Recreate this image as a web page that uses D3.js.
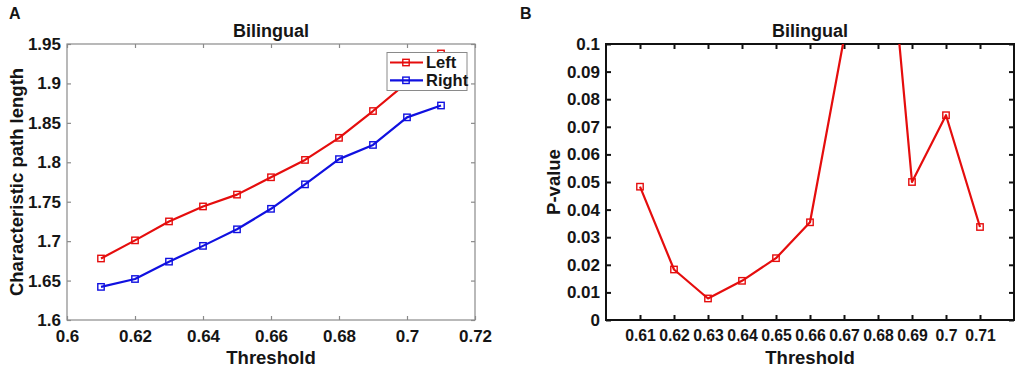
<!DOCTYPE html>
<html><head><meta charset="utf-8">
<script src="https://cdn.jsdelivr.net/npm/d3@7"></script>
<style>
body{margin:0;background:#fff;}
svg text{font-family:"Liberation Sans",Arial,sans-serif;font-weight:bold;fill:#151515;}
</style></head>
<body><svg id="c" width="1021" height="369"></svg>
<script>
const thresholds = [0.61,0.62,0.63,0.64,0.65,0.66,0.67,0.68,0.69,0.70,0.71];
const leftCPL  = [1.678,1.701,1.725,1.744,1.759,1.781,1.803,1.831,1.865,1.901,1.938];
const rightCPL = [1.642,1.652,1.674,1.694,1.715,1.741,1.772,1.804,1.822,1.857,1.872];
const pValues  = [0.0483,0.0183,0.0078,0.0142,0.0224,0.0354,0.102,0.185,0.0500,0.0742,0.0337];
const aXTicks = [0.6,0.62,0.64,0.66,0.68,0.7,0.72];
const aYTicks = [1.6,1.65,1.7,1.75,1.8,1.85,1.9,1.95];
const bXTicks = [0.61,0.62,0.63,0.64,0.65,0.66,0.67,0.68,0.69,0.70,0.71];
const bYTicks = [0,0.01,0.02,0.03,0.04,0.05,0.06,0.07,0.08,0.09,0.1];
const seriesNames = ["Left","Right"];

const RED = "#e50d0d", BLUE = "#1010e0";
const svg = d3.select("#c");
const fmt = d => String(+d.toFixed(3));

function panel(opt){
  const {x0,x1,y0,y1,xd,yd,xt,yt,frame,fw,tickLen,letter,letterX,ylabel,ylabX,xFont} = opt;
  const g = svg.append("g");
  const x = d3.scaleLinear().domain(xd).range([x0,x1]);
  const y = d3.scaleLinear().domain(yd).range([y1,y0]);
  const clipId = "clip"+letter;
  g.append("clipPath").attr("id",clipId).append("rect")
    .attr("x",x0).attr("y",y0).attr("width",x1-x0).attr("height",y1-y0);
  const axB = d3.axisBottom(x).tickValues(xt).tickSize(-tickLen).tickPadding(10).tickFormat(fmt);
  const axT = d3.axisTop(x).tickValues(xt).tickSize(-tickLen).tickFormat("");
  const axL = d3.axisLeft(y).tickValues(yt).tickSize(-tickLen).tickPadding(6).tickFormat(fmt);
  const axR = d3.axisRight(y).tickValues(yt).tickSize(-tickLen).tickFormat("");
  const gb = g.append("g").attr("transform",`translate(0,${y1})`).call(axB);
  const gt = g.append("g").attr("transform",`translate(0,${y0})`).call(axT);
  const gl = g.append("g").attr("transform",`translate(${x0},0)`).call(axL);
  const gr = g.append("g").attr("transform",`translate(${x1},0)`).call(axR);
  [gb,gt,gl,gr].forEach(a=>{
    a.select(".domain").remove();
    a.selectAll(".tick line").attr("stroke",frame).attr("stroke-width",fw);
    a.selectAll("text").style("font-size","17px").attr("fill","#151515");
  });
  gb.selectAll("text").style("font-size",xFont);
  g.append("rect").attr("x",x0).attr("y",y0).attr("width",x1-x0).attr("height",y1-y0)
    .attr("fill","none").attr("stroke",frame).attr("stroke-width",fw);
  g.append("text").attr("x",(x0+x1)/2).attr("y",y0-7).attr("text-anchor","middle")
    .style("font-size","18px").text("Bilingual");
  g.append("text").attr("x",(x0+x1)/2).attr("y",364).attr("text-anchor","middle")
    .style("font-size","18.5px").text("Threshold");
  g.append("text").attr("transform",`translate(${ylabX},${(y0+y1)/2}) rotate(-90)`)
    .attr("text-anchor","middle").attr("dy","0.35em").style("font-size","18.5px").text(ylabel);
  g.append("text").attr("x",letterX).attr("y",19).style("font-size","16px").attr("fill","#000").text(letter);
  return {g,x,y,clipId};
}

function series(p, xs, ys, color){
  const line = d3.line().x((d,i)=>p.x(xs[i])).y(d=>p.y(d));
  const s = p.g.append("g").attr("clip-path",`url(#${p.clipId})`);
  s.append("path").datum(ys).attr("d",line).attr("fill","none")
    .attr("stroke",color).attr("stroke-width",2.2).attr("stroke-linejoin","round");
  s.selectAll("rect.m").data(ys).enter().append("rect").attr("class","m")
    .attr("x",(d,i)=>p.x(xs[i])-3.2).attr("y",d=>p.y(d)-3.2)
    .attr("width",6.4).attr("height",6.4).attr("fill","none")
    .attr("stroke",color).attr("stroke-width",1.4);
}

// Panel A
const A = panel({x0:67,x1:475,y0:44,y1:320,xd:[0.6,0.72],yd:[1.6,1.95],xt:aXTicks,yt:aYTicks,
  frame:"#8a8a8a",fw:1.2,tickLen:4,letter:"A",letterX:9,ylabel:"Characteristic path length",ylabX:17,xFont:"17px"});
series(A, thresholds, leftCPL, RED);
series(A, thresholds, rightCPL, BLUE);
const lg = A.g.append("g");
lg.append("rect").attr("x",387).attr("y",52.5).attr("width",80).attr("height",38)
  .attr("fill","#fff").attr("stroke","#8a8a8a").attr("stroke-width",1);
[RED,BLUE].forEach((c,i)=>{
  const yy = 62.5 + i*17.8;
  lg.append("line").attr("x1",390).attr("x2",423).attr("y1",yy).attr("y2",yy).attr("stroke",c).attr("stroke-width",2.2);
  lg.append("rect").attr("x",406-3.2).attr("y",yy-3.2).attr("width",6.4).attr("height",6.4)
    .attr("fill","none").attr("stroke",c).attr("stroke-width",1.4);
  lg.append("text").attr("x",426).attr("y",yy).attr("dy","0.36em").style("font-size","16.5px").text(seriesNames[i]);
});

// Panel B
const B = panel({x0:606,x1:1014,y0:44,y1:320,xd:[0.6,0.72],yd:[0,0.1],xt:bXTicks,yt:bYTicks,
  frame:"#111",fw:2,tickLen:5,letter:"B",letterX:520,ylabel:"P-value",ylabX:554,xFont:"15.8px"});
series(B, thresholds, pValues, RED);
</script></body></html>
